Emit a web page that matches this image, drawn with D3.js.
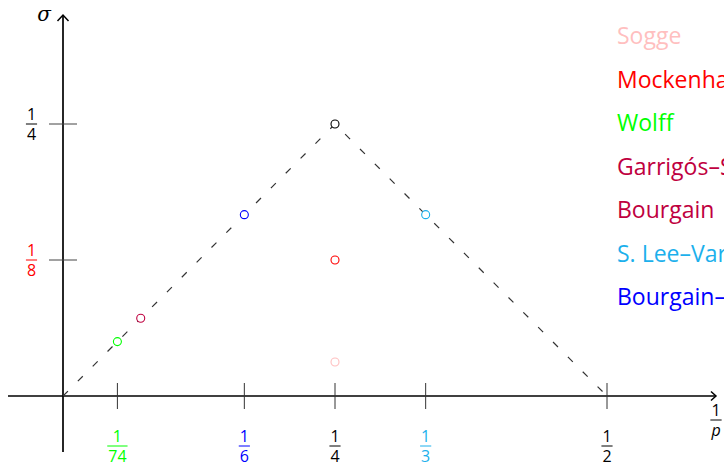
<!DOCTYPE html>
<html>
<head>
<meta charset="utf-8">
<script src="https://cdn.jsdelivr.net/npm/d3@7"></script>
<style>
  html, body { margin: 0; padding: 0; background: #fff; overflow: hidden; }
  svg { display: block; }
</style>
</head>
<body>
<script>
// ---- data ----
const pointNames  = ["Sogge", "Mockenhaupt", "Wolff", "Garrigós–Seeger", "Bourgain–Demeter", "S. Lee–Vargas", "Tomas–Stein"];
const pointX      = [1/4, 1/4, 1/20, 1/14, 1/6, 1/3, 1/4];
const pointSigma  = [1/32, 1/8, 1/20, 1/14, 1/6, 1/6, 1/4];
const pointColors = ["#ffbfbf", "#ff0000", "#00ff00", "#bf0040", "#0000ff", "#1cb0ec", "#000000"];

const boundaryX     = [0, 1/4, 1/2];
const boundarySigma = [0, 1/4, 0];

const xTickPos    = [1/20, 1/6, 1/4, 1/3, 1/2];   // 1/74 drawn at a schematic position
const xTickNum    = ["1", "1", "1", "1", "1"];
const xTickDen    = ["74", "6", "4", "3", "2"];
const xTickColors = ["#00ff00", "#0000ff", "#000000", "#1cb0ec", "#000000"];

const yTickPos    = [1/4, 1/8];
const yTickNum    = ["1", "1"];
const yTickDen    = ["4", "8"];
const yTickColors = ["#000000", "#ff0000"];

const legendLabels = ["Sogge", "Mockenhaupt", "Wolff", "Garrigós–Seeger", "Bourgain", "S. Lee–Vargas", "Bourgain–Demeter"];
const legendColors = ["#ffbfbf", "#ff0000", "#00ff00", "#bf0040", "#bf0040", "#1cb0ec", "#0000ff"];

// ---- layout ----
const W = 724, H = 464;
const FONT = "'Open Sans', 'DejaVu Sans', sans-serif";
const svg = d3.select("body").append("svg").attr("width", W).attr("height", H);

const x = d3.scaleLinear().domain([0, 0.5]).range([63, 607]);
const y = d3.scaleLinear().domain([0, 0.25]).range([396, 124]);

const axisColor = "#000";
// x axis
svg.append("line").attr("x1", 8).attr("x2", 716).attr("y1", y(0)).attr("y2", y(0))
  .attr("stroke", axisColor).attr("stroke-width", 1.7);
svg.append("path").attr("d", `M${711},${y(0)-4.5} L716,${y(0)} L${711},${y(0)+4.5}`)
  .attr("fill", "none").attr("stroke", axisColor).attr("stroke-width", 1.5);
// y axis
svg.append("line").attr("x1", x(0)).attr("x2", x(0)).attr("y1", 452).attr("y2", 15)
  .attr("stroke", axisColor).attr("stroke-width", 1.7);
svg.append("path").attr("d", `M${x(0)-5.5},21 L${x(0)},15 L${x(0)+5.5},21`)
  .attr("fill", "none").attr("stroke", axisColor).attr("stroke-width", 1.5);

// ticks
svg.selectAll(".xt").data(xTickPos).join("line")
  .attr("x1", d => x(d)).attr("x2", d => x(d)).attr("y1", y(0) - 13).attr("y2", y(0) + 13)
  .attr("stroke", "#333").attr("stroke-width", 1);
svg.selectAll(".yt").data(yTickPos).join("line")
  .attr("y1", d => y(d)).attr("y2", d => y(d)).attr("x1", x(0) - 14).attr("x2", x(0) + 14)
  .attr("stroke", "#444").attr("stroke-width", 1);

// fraction helper
function fraction(cx, barY, num, den, color, size, italicDen) {
  const g = svg.append("g").attr("fill", color).style("font-family", FONT).style("font-size", size + "px");
  const t1 = g.append("text").attr("x", cx).attr("y", barY - 4).attr("text-anchor", "middle").text(num);
  const t2 = g.append("text").attr("x", cx).attr("y", barY + 15.5).attr("text-anchor", "middle").text(den);
  if (italicDen) t2.style("font-style", "italic");
  const w = Math.max(t1.node().getComputedTextLength(), t2.node().getComputedTextLength()) + 2;
  g.append("line").attr("x1", cx - w / 2).attr("x2", cx + w / 2).attr("y1", barY).attr("y2", barY)
    .attr("stroke", color).attr("stroke-width", 1);
}
xTickPos.forEach((d, i) => fraction(x(d), 446, xTickNum[i], xTickDen[i], xTickColors[i], 16));
yTickPos.forEach((d, i) => fraction(31.5, y(d), yTickNum[i], yTickDen[i], yTickColors[i], 16));
// axis labels
fraction(716, 420, "1", "p", "#000", 16, true);
svg.append("text").attr("x", 44).attr("y", 21).attr("text-anchor", "middle")
  .style("font-family", "'DejaVu Serif', 'Liberation Serif', serif").style("font-style", "italic")
  .style("font-size", "20px").text("σ");

// dashed boundary
const line = d3.line().x((d, i) => x(boundaryX[i])).y((d, i) => y(boundarySigma[i]));
svg.append("path").datum(boundaryX).attr("d", line)
  .attr("fill", "none").attr("stroke", "#333").attr("stroke-width", 1.2).attr("stroke-dasharray", "7,14");

// points
svg.selectAll(".pt").data(pointX).join("circle")
  .attr("cx", d => x(d)).attr("cy", (d, i) => y(pointSigma[i])).attr("r", 4)
  .attr("fill", "#fff").attr("stroke", (d, i) => pointColors[i]).attr("stroke-width", 1.1);

// legend
svg.selectAll(".lg").data(legendLabels).join("text")
  .attr("x", 617).attr("y", (d, i) => 44 + i * 43.5)
  .attr("fill", (d, i) => legendColors[i])
  .style("font-family", FONT).style("font-size", "23px").text(d => d);
</script>
</body>
</html>
